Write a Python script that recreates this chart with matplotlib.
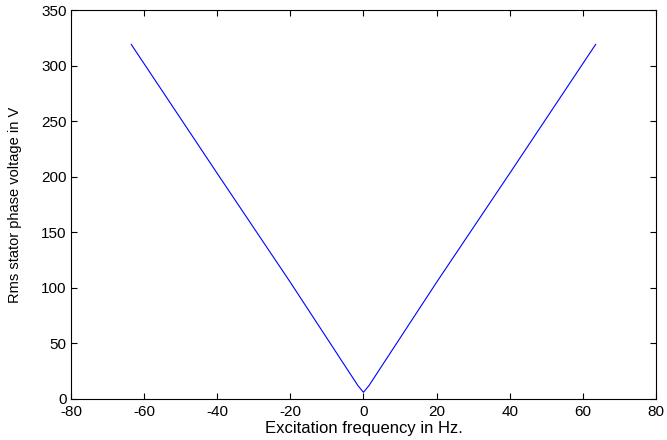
import matplotlib
matplotlib.use("Agg")
from matplotlib import pyplot as plt

# excitation frequency (Hz) and rms stator phase voltage (V)
freq = [-63.5, -40, -20, -1.5, 0, 1.5, 20, 40, 63.5]
volt = [319, 203, 105, 12, 6, 12, 105, 203, 319]

xticks = list(range(-80, 81, 20))
yticks = list(range(0, 351, 50))

plt.rcParams['font.family'] = ['Liberation Sans', 'DejaVu Sans']
plt.rcParams['axes.unicode_minus'] = False

fig = plt.figure(figsize=(6.67, 4.4), dpi=100)
ax = fig.add_axes([0.1064, 0.0932, 0.877, 0.884])

ax.plot(freq, volt, color='#0000ff', linewidth=0.8)

ax.set_xlim(-80, 80)
ax.set_ylim(0, 350)
ax.set_xticks(xticks)
ax.set_yticks(yticks)
ax.tick_params(direction='in', top=True, right=True, length=4, labelsize=11)
ax.tick_params(axis='x', pad=4)
ax.tick_params(axis='y', pad=3)

ax.set_xlabel('Excitation frequency in Hz.', fontsize=12, labelpad=2)
ax.set_ylabel('Rms stator phase voltage in V', fontsize=10.5, labelpad=14)

for s in ax.spines.values():
    s.set_linewidth(0.8)

fig.savefig('out.png', dpi=100)
